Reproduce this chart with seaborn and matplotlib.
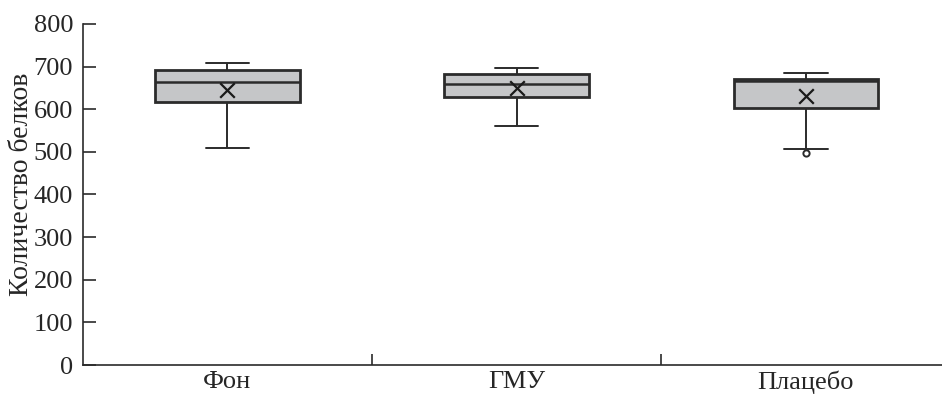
import numpy as np
import pandas as pd
import matplotlib
matplotlib.use("Agg")
import matplotlib.pyplot as plt
import seaborn as sns

# Five-number summaries per group, plus outliers and means
groups = ["Фон", "ГМУ", "Плацебо"]
whisker_low = [508, 560, 506]
q1 = [618, 628, 604]
median = [663, 660, 666]
q3 = [692, 682, 672]
whisker_high = [709, 697, 686]
outliers = [[], [], [498]]
means = [644, 649, 630]

yticks = [0, 100, 200, 300, 400, 500, 600, 700, 800]
ylabel = "Количество белков"


def sample_from_summary(lo, a, m, b, hi, extra):
    # nine ordered values whose linear quartiles are exactly (a, m, b)
    vals = [lo, lo, a, a, m, b, b, hi, hi]
    if extra:
        vals = sorted(extra) + vals[len(extra):]
    return vals


rows = []
for g, lo, a, m, b, hi, ex in zip(groups, whisker_low, q1, median, q3, whisker_high, outliers):
    for v in sample_from_summary(lo, a, m, b, hi, ex):
        rows.append({"group": g, "value": v})
df = pd.DataFrame(rows)
mean_df = pd.DataFrame({"group": groups, "value": means})

sns.set_style("white")
plt.rcParams["font.family"] = ["Liberation Serif", "DejaVu Serif"]

fig = plt.figure(figsize=(9.42, 3.97), dpi=100)
ax = fig.add_axes([0.088, 0.0806, 0.921, 0.859])

edge = "#2b2b2b"
sns.boxplot(
    data=df, x="group", y="value", order=groups, ax=ax,
    width=0.5, whis=1.5, color="#c5c6c8", saturation=1,
    linecolor=edge, linewidth=1.6,
    capwidths=0.15,
    boxprops=dict(linewidth=2.0, edgecolor=edge),
    medianprops=dict(linewidth=1.8, color=edge),
    whiskerprops=dict(linewidth=1.4, color=edge),
    capprops=dict(linewidth=1.4, color=edge),
    flierprops=dict(marker="o", markersize=4.5, markerfacecolor="white",
                    markeredgecolor=edge, markeredgewidth=1.4),
)
sns.scatterplot(data=mean_df, x="group", y="value", ax=ax, marker="x",
                s=110, color="#1a1a1a", linewidth=1.6, zorder=5, legend=False)

ax.set_xlim(-0.5, 2.5)
ax.set_ylim(0, 800)
ax.set_yticks(yticks)
ax.set_xlabel("")
ax.set_ylabel(ylabel, fontsize=20)
ax.yaxis.set_label_coords(-0.056, 0.53)

for side in ("top", "right"):
    ax.spines[side].set_visible(False)
for side in ("left", "bottom"):
    ax.spines[side].set_color(edge)
    ax.spines[side].set_linewidth(1.2)

ax.tick_params(axis="y", which="major", direction="in", length=9, width=1.2,
               color=edge, labelsize=19, pad=7, left=True)
ax.set_xticks(range(len(groups)))
ax.set_xticklabels(groups)
ax.tick_params(axis="x", which="major", length=0, labelsize=19, pad=4)
ax.set_xticks([0.5, 1.5], minor=True)
ax.tick_params(axis="x", which="minor", direction="in", length=8, width=1.2,
               color=edge, bottom=True)

fig.savefig("out.png", dpi=100)
